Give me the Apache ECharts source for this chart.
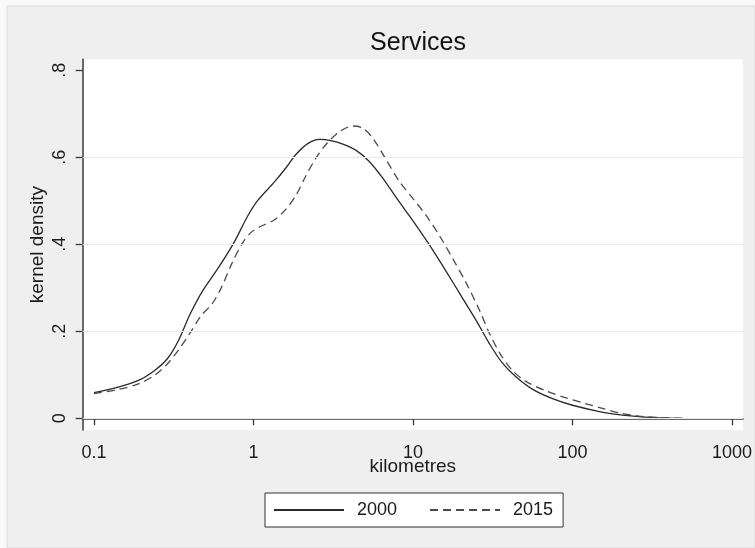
<!DOCTYPE html>
<html>
<head>
<meta charset="utf-8">
<script src="https://cdn.jsdelivr.net/npm/echarts@6/dist/echarts.min.js"></script>
<style>
html,body{margin:0;padding:0;background:#f9f9f9;}
#chart{width:755px;height:548px;}
</style>
</head>
<body>
<div id="chart"></div>
<script>
// ---- data ----
const km2000 = [0.1,0.14,0.19,0.24,0.29,0.34,0.40,0.48,0.60,0.75,0.92,1.07,1.35,1.6,1.85,2.2,2.6,3.1,3.6,4.4,5.3,6.5,8.0,10,12.5,16,20,25,30,36,44,56,75,100,150,200,260,350,490];
const dens2000 = [0.059,0.071,0.087,0.110,0.138,0.180,0.239,0.293,0.345,0.402,0.465,0.502,0.543,0.576,0.607,0.632,0.641,0.638,0.631,0.616,0.591,0.551,0.503,0.454,0.402,0.340,0.282,0.224,0.173,0.129,0.096,0.067,0.045,0.030,0.015,0.008,0.004,0.001,0.0];
const km2015 = [0.1,0.14,0.19,0.24,0.29,0.34,0.40,0.47,0.55,0.63,0.73,0.85,0.97,1.12,1.35,1.6,1.85,2.1,2.45,2.9,3.5,4.2,4.85,5.6,6.8,8.2,10,12,14.6,17.7,21.5,26,30,35,42,51,68,91,120,150,200,260,350,490];
const dens2015 = [0.057,0.066,0.079,0.099,0.126,0.158,0.196,0.236,0.263,0.301,0.355,0.402,0.428,0.442,0.456,0.481,0.513,0.553,0.597,0.633,0.660,0.672,0.667,0.644,0.594,0.545,0.505,0.468,0.421,0.368,0.312,0.250,0.197,0.150,0.110,0.085,0.063,0.047,0.034,0.024,0.012,0.005,0.0015,0.0];
const xTickValues = [0.1,1,10,100,1000];
const xTickLabels = ['0.1','1','10','100','1000'];
const yTickValues = [0,0.2,0.4,0.6,0.8];
const yTickLabels = ['0','.2','.4','.6','.8'];
const yGridValues = [0,0.2,0.4,0.6];
const seriesNames = ['2000','2015'];

const FONT = 'Liberation Sans, Arial, sans-serif';
const chart = echarts.init(document.getElementById('chart'), null, {renderer:'canvas'});

function pairs(xs, ys){ return xs.map((x,i)=>[x, ys[i]]); }
function pickLog(vals, labels, v){
  let best=0, bd=Infinity;
  vals.forEach((t,i)=>{const d=Math.abs(Math.log10(t)-Math.log10(Math.max(v,1e-9))); if(d<bd){bd=d;best=i;}});
  return labels[best];
}
function pickLin(vals, labels, v){
  let best=0, bd=Infinity;
  vals.forEach((t,i)=>{const d=Math.abs(t-v); if(d<bd){bd=d;best=i;}});
  return labels[best];
}

chart.setOption({
  backgroundColor:'#f9f9f9',
  animation:false,
  graphic:[{type:'rect', z:-10, shape:{x:7,y:6,width:748,height:542}, style:{fill:'#efefef', stroke:'#dcdcdc', lineWidth:1}}],
  title:{text:'Services', left:413, top:26, textAlign:'center',
    textStyle:{fontFamily:FONT, fontSize:25, fontWeight:'normal', color:'#111'}},
  legend:{
    data:seriesNames, left:265, top:493, orient:'horizontal',
    backgroundColor:'#fff', borderColor:'#333', borderWidth:1, borderRadius:0,
    padding:[8,10,8,8], itemGap:32, itemWidth:70, itemHeight:14,
    itemStyle:{opacity:0},
    textStyle:{fontFamily:FONT, fontSize:18, color:'#1a1a1a', padding:[0,0,0,8]}
  },
  grid:{left:82.7, right:11, top:59.3, bottom:118, show:true, backgroundColor:'#fff', borderWidth:0, containLabel:false},
  xAxis:{
    type:'log', logBase:10, min:0.08497, max:1172,
    name:'kilometres', nameLocation:'middle', nameGap:27, nameMoveOverlap:false,
    nameTextStyle:{fontFamily:FONT, fontSize:19, color:'#1a1a1a'},
    axisLine:{show:true, lineStyle:{color:'#3a3a3a', width:1.5}},
    axisTick:{show:true, length:7, inside:false, customValues:xTickValues, lineStyle:{color:'#3a3a3a', width:1.3}},
    axisLabel:{show:true, margin:14, customValues:xTickValues, fontFamily:FONT, fontSize:18, color:'#1a1a1a',
      formatter:(v)=>pickLog(xTickValues, xTickLabels, v)},
    splitLine:{show:false}, minorTick:{show:false}, minorSplitLine:{show:false}
  },
  yAxis:{
    type:'value', min:-0.0269, max:0.8253,
    name:'kernel density', nameLocation:'middle', nameGap:35, nameRotate:90, nameMoveOverlap:false,
    nameTextStyle:{fontFamily:FONT, fontSize:19, color:'#1a1a1a'},
    axisLine:{show:true, lineStyle:{color:'#3a3a3a', width:1.5}},
    axisTick:{show:true, length:7, inside:false, customValues:yTickValues, lineStyle:{color:'#3a3a3a', width:1.3}},
    axisLabel:{show:true, rotate:90, margin:14, customValues:yTickValues, fontFamily:FONT, fontSize:18, color:'#1a1a1a',
      formatter:(v)=>pickLin(yTickValues, yTickLabels, v)},
    splitLine:{show:false}
  },
  series:[
    {name:'grid', type:'line', data:[], z:1, silent:true,
      markLine:{silent:true, symbol:['none','none'], label:{show:false},
        lineStyle:{color:'#ebebeb', width:1.2, type:'solid'},
        emphasis:{disabled:true},
        data:yGridValues.map(v=>({yAxis:v}))}},
    {name:seriesNames[0], type:'line', data:pairs(km2000,dens2000), smooth:0.3,
      symbol:'none', showSymbol:false, z:3,
      lineStyle:{color:'#2a2a2a', width:1.3, type:'solid'}, itemStyle:{color:'#2a2a2a'}},
    {name:seriesNames[1], type:'line', data:pairs(km2015,dens2015), smooth:0.3,
      symbol:'none', showSymbol:false, z:3,
      lineStyle:{color:'#4a4a4a', width:1.3, type:[8,5]}, itemStyle:{color:'#4a4a4a'}}
  ]
});
</script>
</body>
</html>
